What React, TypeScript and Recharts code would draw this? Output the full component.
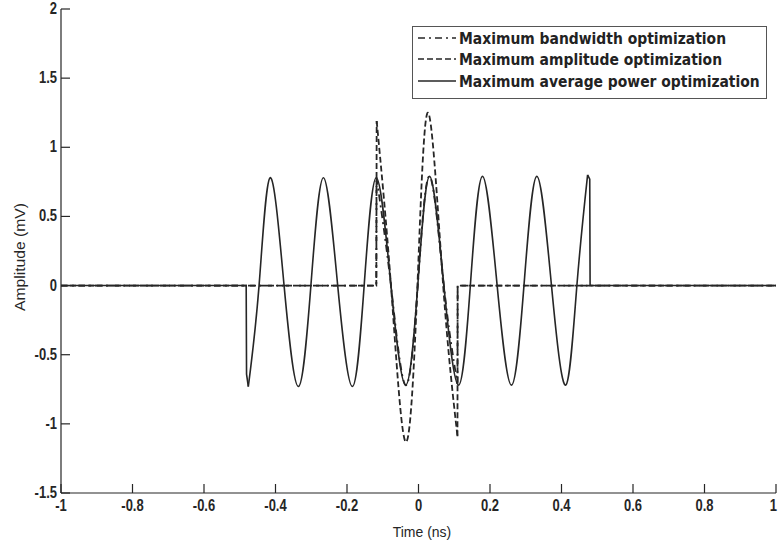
import React from "react";
import { LineChart, Line, XAxis, YAxis, Legend } from "recharts";

const INK = "#262626";
const W = 778;
const H = 542;
const TICK_LEN = 9;

const xTicks = [-1, -0.8, -0.6, -0.4, -0.2, 0, 0.2, 0.4, 0.6, 0.8, 1];
const yTicks = [-1.5, -1, -0.5, 0, 0.5, 1, 1.5, 2];

// time (ns) / amplitude (mV); each trace is split where it jumps

// Maximum average power optimization
const powerLeadT = [-1, -0.482, -0.481, -0.476];
const powerLeadV = [0, 0, -0.64, -0.73];
const powerWaveT = [
  -0.476, -0.446, -0.415, -0.376, -0.336, -0.301, -0.266, -0.226, -0.185,
  -0.152, -0.118, -0.077, -0.036, -0.002, 0.031, 0.071, 0.112, 0.145, 0.179,
  0.22, 0.26, 0.295, 0.331, 0.372, 0.412, 0.443, 0.473,
];
const powerWaveV = [
  -0.73, 0, 0.78, 0, -0.73, 0, 0.78, 0, -0.73, 0, 0.78, 0, -0.72, 0, 0.79, 0,
  -0.72, 0, 0.79, 0, -0.72, 0, 0.79, 0, -0.72, 0, 0.8,
];
const powerTailT = [0.473, 0.479, 0.48, 1];
const powerTailV = [0.8, 0.77, 0, 0];

// Maximum bandwidth optimization
const bwLeadT = [-1, -0.118, -0.1175];
const bwLeadV = [0, 0, 0.78];
const bwWaveT = [-0.1175, -0.077, -0.036, -0.002, 0.031, 0.071, 0.109];
const bwWaveV = [0.78, 0, -0.72, 0, 0.79, 0, -0.71];
const bwTailT = [0.109, 0.1095, 1];
const bwTailV = [-0.71, 0, 0];

// Maximum amplitude optimization
const ampLeadT = [-1, -0.118, -0.117];
const ampLeadV = [0, 0, 1.19];
const ampWaveT = [-0.117, -0.077, -0.036, -0.003, 0.027, 0.069, 0.109];
const ampWaveV = [1.19, 0, -1.13, 0, 1.25, 0, -1.09];
const ampTailT = [0.109, 0.1095, 1];
const ampTailV = [-1.09, 0, 0];

const pts = (t: number[], v: number[]) => t.map((x, i) => ({ t: x, v: v[i] }));

type Seg = { t: number[]; v: number[]; curve: "linear" | "natural" };
type Series = { name: string; dash?: string; width: number; segs: Seg[] };

const series: Series[] = [
  {
    name: "Maximum average power optimization",
    width: 1.6,
    segs: [
      { t: powerLeadT, v: powerLeadV, curve: "linear" },
      { t: powerWaveT, v: powerWaveV, curve: "natural" },
      { t: powerTailT, v: powerTailV, curve: "linear" },
    ],
  },
  {
    name: "Maximum bandwidth optimization",
    dash: "7 4 2 4",
    width: 1.8,
    segs: [
      { t: bwLeadT, v: bwLeadV, curve: "linear" },
      { t: bwWaveT, v: bwWaveV, curve: "natural" },
      { t: bwTailT, v: bwTailV, curve: "linear" },
    ],
  },
  {
    name: "Maximum amplitude optimization",
    dash: "6 3",
    width: 1.8,
    segs: [
      { t: ampLeadT, v: ampLeadV, curve: "linear" },
      { t: ampWaveT, v: ampWaveV, curve: "natural" },
      { t: ampTailT, v: ampTailV, curve: "linear" },
    ],
  },
];

const legendOrder = [1, 2, 0];

// inward tick marks on every side of the box, labels only bottom/left
const EdgeTick = (props: any) => {
  const { x, y, payload, side } = props;
  const v = payload.value;
  const font = {
    fontFamily: "'Liberation Sans', Arial, sans-serif",
    fontWeight: 700,
    fontSize: 13,
    fill: INK,
  };
  if (side === "bottom") {
    // the last label would run off the right edge, so pull it inside
    const last = v === xTicks[xTicks.length - 1];
    return (
      <g>
        <line x1={x} y1={y} x2={x} y2={y - TICK_LEN} stroke={INK} strokeWidth={1.2} />
        <text
          transform={`translate(${last ? x + 1 : x},${y + 18}) scale(1,1.2)`}
          textAnchor={last ? "end" : "middle"}
          style={font}
        >
          {String(v)}
        </text>
      </g>
    );
  }
  if (side === "top") {
    return <line x1={x} y1={y} x2={x} y2={y + TICK_LEN} stroke={INK} strokeWidth={1.2} />;
  }
  if (side === "left") {
    return (
      <g>
        <line x1={x} y1={y} x2={x + TICK_LEN} y2={y} stroke={INK} strokeWidth={1.2} />
        <text transform={`translate(${x - 4},${y + 5}) scale(1,1.2)`} textAnchor="end" style={font}>
          {String(v)}
        </text>
      </g>
    );
  }
  return <line x1={x} y1={y} x2={x - TICK_LEN} y2={y} stroke={INK} strokeWidth={1.2} />;
};

const LegendBox = () => (
  <div
    style={{
      width: 355,
      height: 73,
      boxSizing: "border-box",
      border: "1px solid #555",
      background: "#fff",
      paddingLeft: 5,
      paddingTop: 0,
    }}
  >
    {legendOrder.map((i) => {
      const s = series[i];
      return (
        <div key={s.name} style={{ display: "flex", alignItems: "center", height: 21.5 }}>
          <svg width={41} height={10} style={{ flex: "none" }}>
            <line x1={0} y1={5} x2={38} y2={5} stroke={INK} strokeWidth={1.6} strokeDasharray={s.dash} />
          </svg>
          <span
            style={{
              display: "inline-block",
              fontFamily: "'DejaVu Sans', Verdana, sans-serif",
              fontWeight: 700,
              fontSize: 13.9,
              color: "#222",
              whiteSpace: "nowrap",
              transform: "scaleY(1.2)",
            }}
          >
            {s.name}
          </span>
        </div>
      );
    })}
  </div>
);

export default function App() {
  return (
    <div style={{ position: "absolute", left: 0, top: 0, width: W, height: H, background: "#fff" }}>
      <LineChart width={W} height={H} margin={{ top: 9, right: 2, left: 0, bottom: 0 }}>
        <XAxis
          xAxisId={0}
          dataKey="t"
          type="number"
          domain={[-1, 1]}
          ticks={xTicks}
          interval={0}
          allowDataOverflow
          height={49}
          axisLine={{ stroke: INK, strokeWidth: 1.2 }}
          tickLine={false}
          tickSize={0}
          tickMargin={0}
          tick={<EdgeTick side="bottom" />}
        />
        <XAxis
          xAxisId="top"
          orientation="top"
          type="number"
          domain={[-1, 1]}
          ticks={xTicks}
          interval={0}
          allowDataOverflow
          height={0}
          axisLine={{ stroke: INK, strokeWidth: 1.2 }}
          tickLine={false}
          tickSize={0}
          tickMargin={0}
          tick={<EdgeTick side="top" />}
        />
        <YAxis
          yAxisId={0}
          type="number"
          domain={[-1.5, 2]}
          ticks={yTicks}
          interval={0}
          allowDataOverflow
          width={61}
          axisLine={{ stroke: INK, strokeWidth: 1.2 }}
          tickLine={false}
          tickSize={0}
          tickMargin={0}
          tick={<EdgeTick side="left" />}
        />
        <YAxis
          yAxisId="right"
          orientation="right"
          type="number"
          domain={[-1.5, 2]}
          ticks={yTicks}
          interval={0}
          allowDataOverflow
          width={0}
          axisLine={{ stroke: INK, strokeWidth: 1.2 }}
          tickLine={false}
          tickSize={0}
          tickMargin={0}
          tick={<EdgeTick side="right" />}
        />
        {series.map((s) =>
          s.segs.map((g, j) => (
            <Line
              key={`${s.name}-${j}`}
              data={pts(g.t, g.v)}
              dataKey="v"
              name={s.name}
              type={g.curve}
              stroke={INK}
              strokeWidth={s.width}
              strokeDasharray={s.dash}
              dot={false}
              activeDot={false}
              legendType="none"
              isAnimationActive={false}
            />
          ))
        )}
        <Legend
          layout="vertical"
          align="center"
          verticalAlign="middle"
          content={() => <LegendBox />}
          wrapperStyle={{ position: "absolute", left: 412, top: 26, width: 355, height: 73 }}
        />
        <text
          transform="translate(422,537) scale(1,1.1)"
          textAnchor="middle"
          style={{ fontFamily: "'Liberation Sans', Arial, sans-serif", fontSize: 14, fill: INK }}
        >
          Time (ns)
        </text>
        <text
          transform="translate(25,257) rotate(-90) scale(1.12,1)"
          textAnchor="middle"
          style={{ fontFamily: "'Liberation Sans', Arial, sans-serif", fontSize: 14, fill: INK }}
        >
          Amplitude (mV)
        </text>
      </LineChart>
    </div>
  );
}
